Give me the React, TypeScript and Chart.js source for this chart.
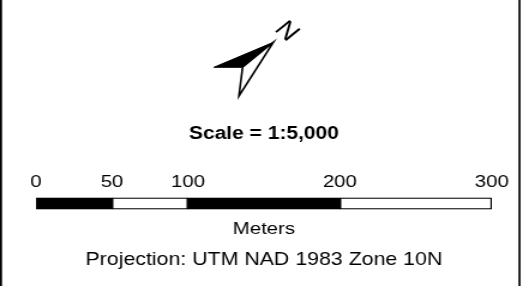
import React, { useEffect, useRef } from 'react';
import { Chart, registerables } from 'chart.js';

Chart.register(...registerables);
Chart.defaults.font.family = "'Liberation Sans', Arial, sans-serif";
Chart.defaults.color = '#000';

// ---- data ----
const categories = ['scale bar'];
const segmentStarts = [0, 50, 100, 200];
const segmentEnds = [50, 100, 200, 300];
const tickValues = [0, 50, 100, 200, 300];
const scaleTitle = 'Scale = 1:5,000';
const unitLabel = 'Meters';
const projectionLabel = 'Projection: UTM NAD 1983 Zone 10N';
const northLabel = 'N';

// the reference is horizontally stretched; draw narrower and stretch with CSS
const VIEW_W = 523;
const VIEW_H = 286;
const DRAW_W = 436;

const decorPlugin = {
  id: 'decor',
  afterDraw(chart: any) {
    const ctx = chart.ctx as CanvasRenderingContext2D;
    const w = chart.width;
    const h = chart.height;
    ctx.save();
    // frame lines
    ctx.fillStyle = '#000';
    ctx.fillRect(0, 0, 1.7, h);
    ctx.fillRect(w - 3.8, 0, 1.7, h);

    // north arrow
    const cx = w / 2;
    const tip = [cx + 9.8, 42.3];
    const wing = [cx - 39.7, 67.3];
    const notch = [cx - 15.8, 67.3];
    const tail = [cx - 18.8, 96];
    ctx.beginPath();
    ctx.moveTo(tip[0], tip[1]);
    ctx.lineTo(wing[0], wing[1]);
    ctx.lineTo(notch[0], notch[1]);
    ctx.closePath();
    ctx.fillStyle = '#000';
    ctx.fill();
    ctx.lineWidth = 1;
    ctx.strokeStyle = '#000';
    ctx.stroke();

    ctx.beginPath();
    ctx.moveTo(tip[0], tip[1]);
    ctx.lineTo(notch[0], notch[1]);
    ctx.lineTo(tail[0], tail[1]);
    ctx.closePath();
    ctx.fillStyle = '#fff';
    ctx.fill();
    ctx.lineWidth = 1.6;
    ctx.lineJoin = 'miter';
    ctx.stroke();

    ctx.translate(cx + 20.9, 31.7);
    ctx.rotate((45.8 * Math.PI) / 180);
    ctx.fillStyle = '#000';
    ctx.font = "24px 'Liberation Sans', Arial, sans-serif";
    ctx.textAlign = 'center';
    ctx.textBaseline = 'middle';
    ctx.fillText(northLabel, 0, 0);
    ctx.restore();
  },
};

export default function App() {
  const canvasRef = useRef<HTMLCanvasElement | null>(null);

  useEffect(() => {
    const canvas = canvasRef.current;
    if (!canvas) return;
    const chart = new Chart(canvas, {
      type: 'bar',
      data: {
        labels: categories,
        datasets: segmentStarts.map((s, i) => ({
          label: `${s}-${segmentEnds[i]}`,
          data: [[s, segmentEnds[i]]] as any,
          backgroundColor: i % 2 === 0 ? '#000' : '#fff',
          borderColor: '#000',
          borderWidth: 1.5,
          borderSkipped: false,
          grouped: false,
          categoryPercentage: 1,
          barPercentage: 1,
        })),
      },
      options: {
        indexAxis: 'y',
        animation: false,
        responsive: false,
        devicePixelRatio: 1,
        events: [],
        layout: { padding: { left: 30, right: 26, top: 0, bottom: 0 } },
        plugins: {
          legend: { display: false },
          tooltip: { enabled: false },
          title: {
            display: true,
            text: scaleTitle,
            color: '#000',
            font: { size: 17.5, weight: 'bold' },
            padding: { top: 124, bottom: 22.5 },
          },
          subtitle: {
            display: true,
            position: 'bottom',
            text: projectionLabel,
            color: '#000',
            font: { size: 17.8 },
            padding: { top: 10.1, bottom: 14.84 },
          },
        },
        scales: {
          x: {
            type: 'linear',
            position: 'top',
            min: 0,
            max: 300,
            grid: { display: false, drawTicks: false },
            border: { display: false },
            ticks: {
              padding: 4.8,
              autoSkip: false,
              maxRotation: 0,
              color: '#000',
              font: { size: 17 },
            },
            afterBuildTicks: (scale: any) => {
              scale.ticks = tickValues.map((v) => ({ value: v }));
            },
          },
          x2: {
            type: 'linear',
            position: 'bottom',
            display: true,
            min: 0,
            max: 300,
            grid: { display: false, drawTicks: false },
            border: { display: false },
            ticks: { display: false },
            title: {
              display: true,
              text: unitLabel,
              color: '#000',
              font: { size: 17 },
              padding: { top: 9.8, bottom: 0 },
            },
          },
          y: { type: 'category', display: false },
        },
      } as any,
      plugins: [decorPlugin],
    });
    return () => chart.destroy();
  }, []);

  return (
    <div
      style={{
        position: 'fixed',
        left: 0,
        top: 0,
        width: VIEW_W,
        height: VIEW_H,
        background: '#fff',
        overflow: 'hidden',
      }}
    >
      <canvas
        ref={canvasRef}
        width={DRAW_W}
        height={VIEW_H}
        style={{ display: 'block', width: `${VIEW_W}px`, height: `${VIEW_H}px` }}
      />
    </div>
  );
}
